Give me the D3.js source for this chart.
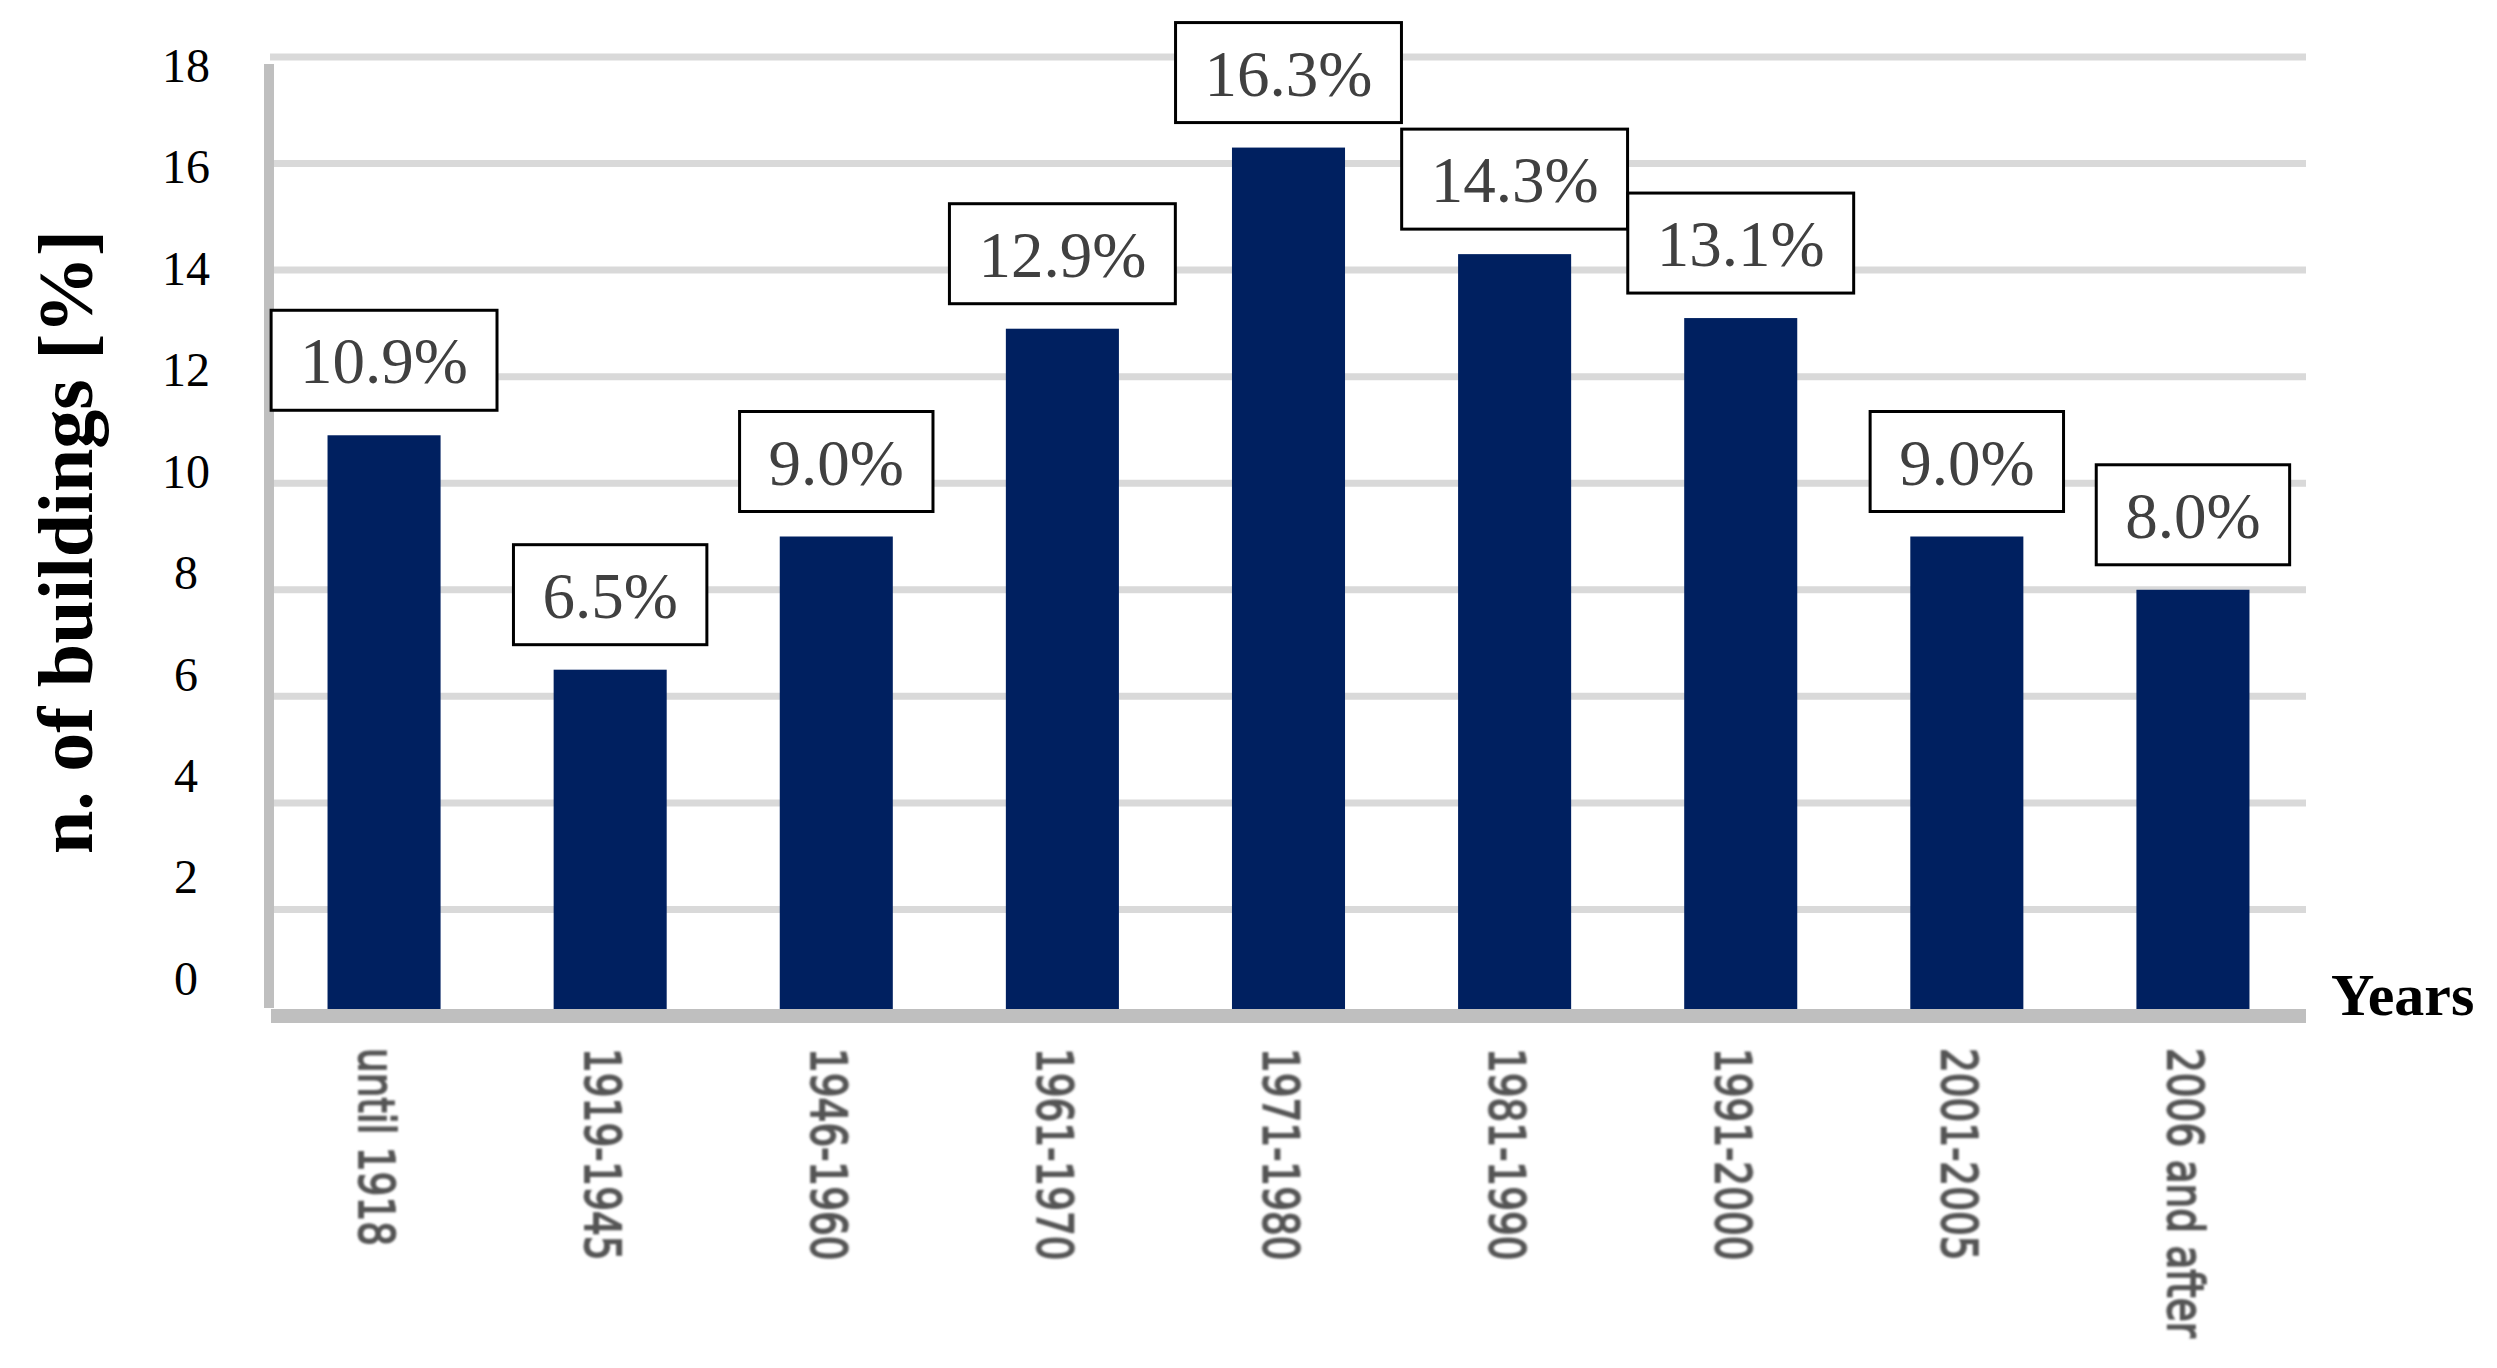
<!DOCTYPE html>
<html>
<head>
<meta charset="utf-8">
<script src="https://cdn.jsdelivr.net/npm/d3@7"></script>
<style>
  html, body { margin: 0; padding: 0; background: #ffffff; }
  svg { display: block; }
</style>
</head>
<body>
<svg id="chart"></svg>
<script>
// ==============================
// DATA
// ==============================

const categories = [
  "until 1918", "1919-1945", "1946-1960", "1961-1970", "1971-1980",
  "1981-1990", "1991-2000", "2001-2005", "2006 and after"
];

const shares = [10.9, 6.5, 9.0, 12.9, 16.3, 14.3, 13.1, 9.0, 8.0];

const yTickValues = [0, 2, 4, 6, 8, 10, 12, 14, 16, 18];

const yTitle = "n. of buildings [%]";
const xTitle = "Years";

// ==============================
// LAYOUT
// ==============================

const width = 2497;
const height = 1368;

const plotLeft = 271;
const plotRight = 2306;
const barColor = "#002060";
const serif = "'Liberation Serif', 'Times New Roman', serif";

const svg = d3.select("#chart")
  .attr("width", width)
  .attr("height", height)
  .attr("viewBox", `0 0 ${width} ${height}`);

// Soft blur for the category labels
const defs = svg.append("defs");
defs.append("filter")
  .attr("id", "soft")
  .append("feGaussianBlur")
  .attr("stdDeviation", 0.8);

// Scales
const x = d3.scaleBand()
  .domain(categories)
  .range([plotLeft, plotRight])
  .paddingInner(0.5)
  .paddingOuter(0.25);

const y = d3.scaleLinear()
  .domain([0, 18])
  .range([1016, 57]);

// tick labels sit on a slightly tighter spacing than the gridlines
const yLabel = d3.scaleLinear()
  .domain([0, 18])
  .range([979, 66]);

// ==============================
// GRIDLINES
// ==============================

svg.append("g")
  .attr("class", "grid")
  .selectAll("line")
  .data(yTickValues.filter(d => d > 0))
  .enter()
  .append("line")
  .attr("x1", plotLeft - 1)
  .attr("x2", plotRight)
  .attr("y1", d => y(d))
  .attr("y2", d => y(d))
  .attr("stroke", "#d9d9d9")
  .attr("stroke-width", 7);

// ==============================
// BARS
// ==============================

svg.append("g")
  .attr("class", "bars")
  .selectAll("rect")
  .data(shares)
  .enter()
  .append("rect")
  .attr("x", (d, i) => x(categories[i]))
  .attr("width", x.bandwidth())
  .attr("y", d => y(d))
  .attr("height", d => y(0) - y(d))
  .attr("fill", barColor);

// ==============================
// AXES
// ==============================

// vertical axis bar
svg.append("rect")
  .attr("x", plotLeft - 7)
  .attr("y", 64)
  .attr("width", 10)
  .attr("height", 1008 - 64)
  .attr("fill", "#bfbfbf");

// horizontal axis bar
svg.append("rect")
  .attr("x", plotLeft)
  .attr("y", y(0) - 7)
  .attr("width", plotRight - plotLeft)
  .attr("height", 14)
  .attr("fill", "#bfbfbf");

// y tick labels
const yAxis = svg.append("g")
  .attr("transform", "translate(186,0)")
  .call(d3.axisLeft(yLabel).tickValues(yTickValues).tickSize(0).tickPadding(0));

yAxis.select(".domain").remove();

yAxis.selectAll("text")
  .attr("text-anchor", "middle")
  .attr("font-family", serif)
  .attr("font-size", 48)
  .attr("fill", "#000000");

// category labels, rotated to read downwards
svg.append("g")
  .attr("class", "x-labels")
  .attr("filter", "url(#soft)")
  .selectAll("text")
  .data(categories)
  .enter()
  .append("text")
  .attr("transform", d => `translate(${x(d) + x.bandwidth() / 2 - 26},1048) rotate(90) scale(1,1.26)`)
  .attr("font-family", "'DejaVu Sans', Verdana, sans-serif")
  .attr("font-size", 39)
  .attr("fill", "#555555")
  .attr("stroke", "#555555")
  .attr("stroke-width", 1.4)
  .attr("dominant-baseline", "hanging")
  .attr("dy", "-0.76em")
  .text(d => d);

// ==============================
// VALUE BOXES
// ==============================

const boxes = svg.append("g")
  .attr("class", "value-boxes")
  .selectAll("g")
  .data(shares)
  .enter()
  .append("g");

const boxText = boxes.append("text")
  .attr("x", (d, i) => x(categories[i]) + x.bandwidth() / 2)
  .attr("y", d => y(d) - 52)
  .attr("text-anchor", "middle")
  .attr("font-family", serif)
  .attr("font-size", 65)
  .attr("fill", "#404040")
  .text(d => d.toFixed(1) + "%");

boxText.each(function(d) {
  const bb = this.getBBox();
  const cx = +this.getAttribute("x");
  const w = bb.width + 58;

  d3.select(this.parentNode)
    .insert("rect", "text")
    .attr("x", cx - w / 2)
    .attr("y", y(d) - 125)
    .attr("width", w)
    .attr("height", 100)
    .attr("fill", "#ffffff")
    .attr("stroke", "#000000")
    .attr("stroke-width", 3);
});

// ==============================
// AXIS TITLES
// ==============================

svg.append("text")
  .attr("transform", "translate(92,542) rotate(-90)")
  .attr("text-anchor", "middle")
  .attr("font-family", serif)
  .attr("font-weight", "bold")
  .attr("font-size", 78)
  .attr("fill", "#000000")
  .text(yTitle);

svg.append("text")
  .attr("x", 2331)
  .attr("y", 1015)
  .attr("font-family", serif)
  .attr("font-weight", "bold")
  .attr("font-size", 60)
  .attr("fill", "#000000")
  .text(xTitle);
</script>
</body>
</html>
